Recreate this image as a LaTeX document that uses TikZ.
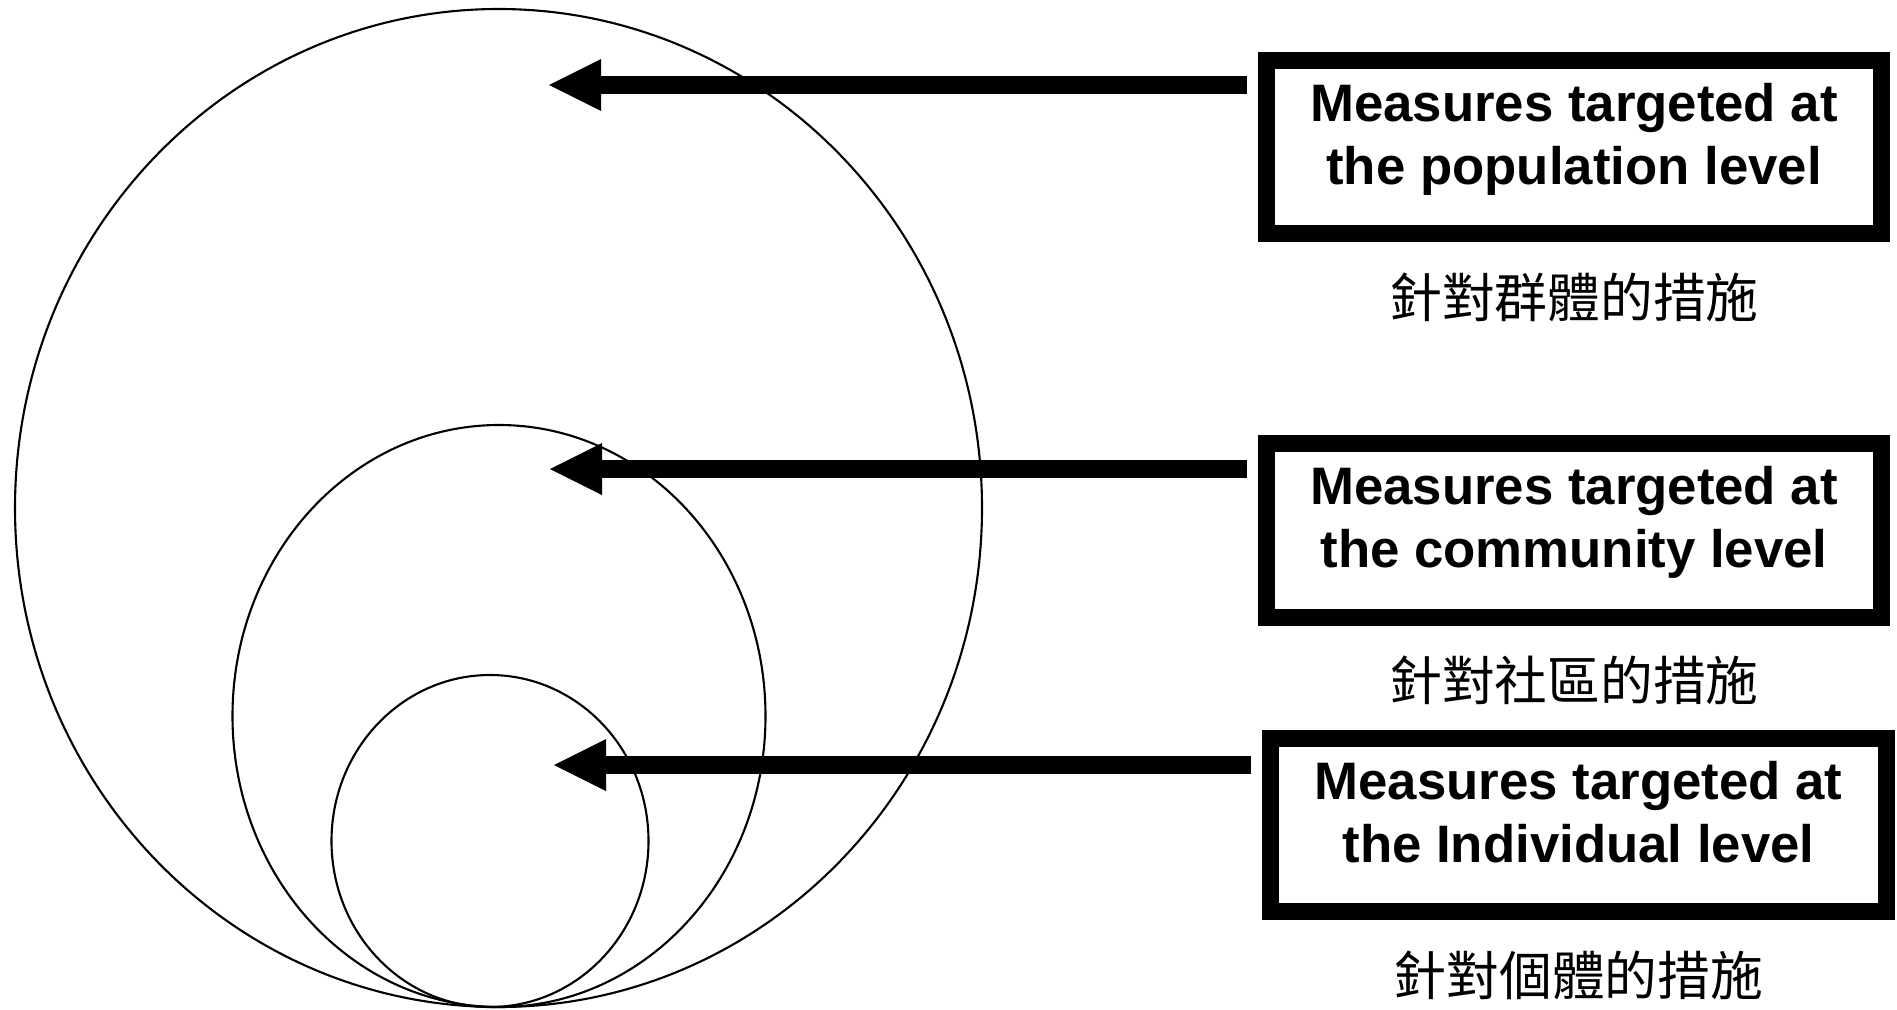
\documentclass[tikz,border=0pt]{standalone}
\usepackage{fontspec}
\setmainfont{Liberation Sans}
\newfontfamily\cjk{Noto Sans CJK TC}
\usetikzlibrary{arrows.meta,positioning}

\begin{document}
\begin{tikzpicture}[x=0.01cm,y=-0.01cm]
\tikzstyle{ring}=[draw,line width=0.6pt]
\tikzstyle{level}=[draw,line width=0.17cm,minimum width=6.15cm,minimum height=1.73cm,inner sep=0pt,align=center,text depth=0.27cm,font=\fontsize{15}{17.9}\selectfont\bfseries]
\tikzstyle{zh}=[font=\fontsize{15}{18}\selectfont\cjk,node distance=1.5cm]
\tikzstyle{bigarrow}=[line width=0.176cm,-{Triangle[length=0.52cm,width=0.52cm,line width=0pt]},shorten <=0.11cm]
\useasboundingbox (0,0) rectangle (1897,1009);

% the three levels, nested
\draw[ring] (498.5,508) ellipse [x radius=483.5, y radius=499];
\draw[ring] (499,716) ellipse [x radius=266.5, y radius=291];
\draw[ring] (490,841) ellipse [x radius=158.5, y radius=166];

\begin{scope}
    \node [level] (pbox) at (1574,147) {Measures targeted at\\the population level};
    \node [zh,below of=pbox] (pzh) {針對群體的措施};
    \coordinate (ptip) at (549,85);
    \draw[bigarrow] (ptip -| pbox.west) -- (ptip);
\end{scope}
\begin{scope}
    \node [level] (cbox) at (1574,530.5) {Measures targeted at\\the community level};
    \node [zh,below of=cbox] (czh) {針對社區的措施};
    \coordinate (ctip) at (550,469);
    \draw[bigarrow] (ctip -| cbox.west) -- (ctip);
\end{scope}
\begin{scope}
    \node [level] (ibox) at (1578.5,825) {Measures targeted at\\the Individual level};
    \node [zh,below of=ibox] (izh) {針對個體的措施};
    \coordinate (itip) at (554,765);
    \draw[bigarrow] (itip -| ibox.west) -- (itip);
\end{scope}

\end{tikzpicture}
\end{document}
